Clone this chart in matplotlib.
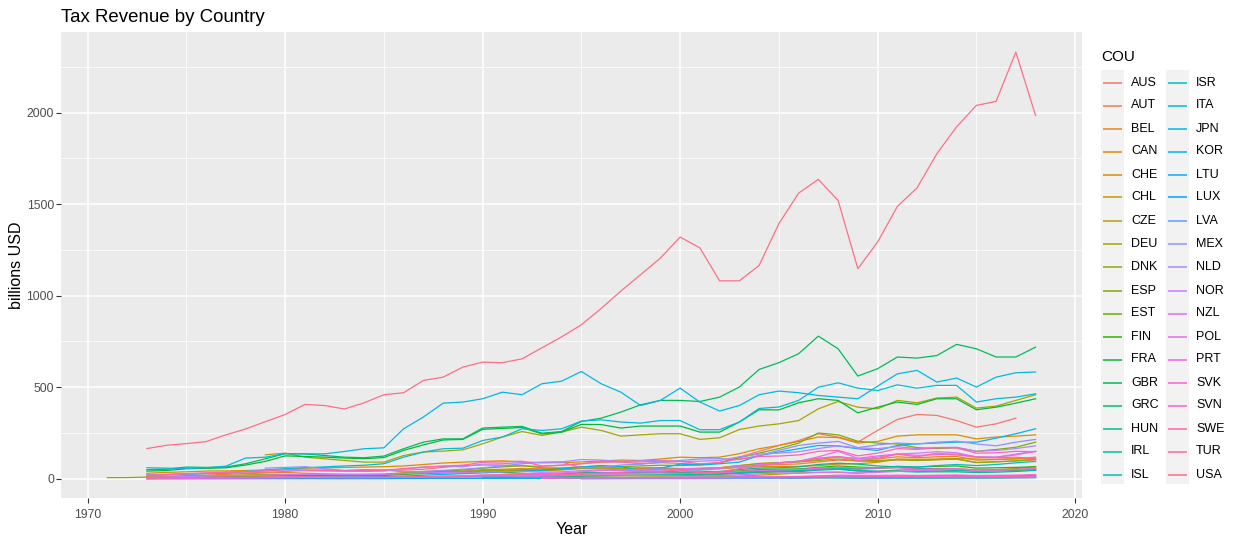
import numpy as np
import matplotlib
matplotlib.use("Agg")
import matplotlib.pyplot as plt
from matplotlib.lines import Line2D
from matplotlib.patches import Rectangle

plt.rcParams['font.family'] = ['Liberation Sans', 'DejaVu Sans']

# Tax revenue, billions USD, one list per country starting at START[country]
AUS = [20, 24, 27, 30, 30, 32, 35, 40, 46, 48,
       45, 50, 48, 47, 52, 62, 72, 75, 74, 70,
       68, 74, 82, 90, 92, 82, 88, 84, 78, 88,
       118, 150, 182, 209, 246, 228, 200, 264, 324, 351,
       346, 318, 282, 300, 331]
AUT = [8, 10, 12, 13, 16, 18, 22, 23, 21, 21,
       21, 21, 22, 28, 34, 36, 36, 44, 46, 51,
       51, 55, 63, 61, 55, 56, 56, 53, 51, 55,
       66, 75, 77, 81, 92, 102, 97, 94, 104, 100,
       105, 107, 90, 94, 97, 104]
BEL = [12, 14, 17, 20, 24, 28, 32, 35, 30, 27,
       25, 25, 26, 33, 40, 42, 42, 50, 52, 56,
       54, 58, 66, 64, 58, 59, 60, 56, 55, 60,
       72, 84, 88, 92, 106, 118, 110, 108, 120, 115,
       120, 122, 102, 105, 110, 118]
CAN = [30, 35, 38, 42, 43, 45, 48, 52, 58, 60,
       62, 64, 66, 70, 78, 86, 91, 95, 98, 92,
       88, 88, 92, 97, 102, 100, 108, 118, 115, 118,
       137, 164, 182, 204, 228, 225, 195, 204, 233, 240,
       240, 240, 218, 228, 233, 240]
CHE = [9, 11, 13, 14, 15, 20, 22, 21, 20, 21,
       21, 20, 21, 28, 34, 35, 33, 42, 43, 45,
       44, 48, 56, 55, 48, 49, 50, 48, 50, 55,
       62, 66, 67, 68, 72, 80, 82, 90, 108, 106,
       108, 110, 108, 106, 108, 110]
CHL = [6, 7, 9, 10, 11, 14, 15, 16, 15, 14,
       15, 14, 14, 15, 20, 25, 32, 35, 35, 30,
       40, 48, 50, 50, 46, 42, 42, 46, 50]
CZE = [12, 14, 18, 20, 19, 20, 19, 18, 20, 25,
       30, 34, 38, 42, 52, 62, 56, 56, 62, 56,
       56, 55, 48, 50, 56, 66]
DEU = [131, 140, 118, 109, 100, 91, 91, 127, 146, 151,
       158, 191, 228, 258, 237, 255, 282, 264, 233, 240,
       246, 246, 215, 224, 269, 288, 300, 318, 382, 422,
       391, 382, 428, 415, 441, 446, 386, 397, 428, 459]
DNK = [6, 6.5,
       9, 11, 13, 15, 17, 19, 22, 24, 21, 20,
       20, 21, 23, 30, 38, 40, 38, 46, 47, 50,
       48, 52, 60, 60, 56, 58, 58, 54, 56, 60,
       72, 82, 88, 92, 100, 108, 98, 100, 104, 100,
       104, 108, 88, 92, 98, 106]
ESP = [6, 8, 10, 11, 11, 13, 17, 20, 20, 20,
       18, 19, 22, 28, 35, 42, 48, 58, 65, 72,
       60, 58, 65, 70, 66, 70, 74, 72, 76, 88,
       115, 140, 165, 195, 250, 240, 205, 195, 190, 170,
       165, 170, 150, 160, 172, 200]
EST = [1, 1.2, 1.3, 1.5, 1.4, 1.4, 1.5, 1.8, 2.4, 3,
       3.5, 4.4, 5.8, 6.2, 5.2, 4.8, 5.2, 5.3, 6, 6.4,
       5.5, 5.8, 6.5, 7.5]
FIN = [6, 7, 9, 10, 10, 11, 13, 16, 17, 17,
       16, 17, 18, 24, 28, 32, 34, 40, 36, 30,
       22, 26, 34, 34, 32, 34, 34, 31, 32, 35,
       43, 50, 52, 54, 62, 70, 64, 60, 68, 64,
       68, 70, 58, 60, 62, 66]
FRA = [42, 45, 55, 57, 60, 75, 95, 125, 122, 118,
       113, 110, 116, 155, 185, 212, 215, 270, 275, 280,
       245, 255, 297, 296, 277, 288, 288, 288, 255, 255,
       310, 377, 376, 415, 437, 428, 360, 391, 419, 406,
       437, 437, 377, 391, 413, 437]
GBR = [49, 52, 64, 62, 64, 82, 109, 137, 136, 127,
       118, 115, 124, 164, 200, 218, 218, 277, 282, 286,
       249, 258, 313, 331, 364, 404, 428, 428, 422, 446,
       501, 597, 634, 683, 779, 710, 561, 601, 665, 659,
       673, 734, 710, 665, 665, 719]
GRC = [3, 3.5, 4, 4.5, 5.3, 6.3, 8, 9, 9, 10,
       9.5, 9.5, 10, 10, 11, 13, 14, 18, 20, 23,
       23, 25, 29, 31, 32, 33, 35, 34, 35, 40,
       51, 58, 60, 65, 78, 85, 80, 70, 65, 57,
       52, 54, 45, 46, 48, 52]
HUN = [12, 14, 15, 16, 16, 18, 18, 18, 19, 18,
       20, 25, 30, 36, 38, 39, 47, 52, 42, 40,
       41, 37, 38, 38, 34, 36, 40, 46]
IRL = [2, 2.3, 2.7, 3, 3.5, 4.3, 5.4, 6.4, 6.4, 6.6,
       6.4, 6.5, 7, 8.6, 10, 10.5, 10.8, 12.4, 12.5, 14,
       12.5, 13.5, 15.5, 17, 18, 19.5, 21.5, 22, 24, 27,
       34, 40, 45, 50, 59, 56, 45, 41, 43, 40,
       42, 45, 43, 47, 50, 57]
ISL = [0.4, 0.5, 0.5, 0.6, 0.7, 0.9, 1, 1.2, 1.4, 1.3,
       1, 1.1, 1.2, 1.6, 2.1, 2.2, 2.1, 2.3, 2.5, 2.5,
       2.1, 2.1, 2.3, 2.4, 2.5, 2.8, 3, 3, 2.7, 3.1,
       3.8, 4.6, 5.6, 5.6, 6.8, 4.8, 3.3, 3.2, 3.5, 3.4,
       3.7, 4.2, 4.6, 5.5, 6.4, 6.6]
ISR = [30, 33, 35, 37, 38, 42, 42, 38, 38, 40,
       42, 45, 50, 58, 52, 58, 65, 64, 72, 78,
       72, 78, 87, 95]
ITA = [20, 22, 25, 28, 33, 40, 48, 55, 60, 65,
       70, 74, 82, 118, 146, 164, 167, 209, 228, 273,
       264, 273, 315, 322, 310, 304, 318, 318, 268, 268,
       310, 384, 392, 428, 500, 524, 495, 482, 513, 495,
       510, 510, 419, 437, 446, 464]
JPN = [60, 58, 56, 60, 69, 113, 118, 137, 136, 136,
       149, 164, 169, 273, 337, 413, 419, 437, 473, 459,
       519, 533, 586, 519, 473, 400, 428, 495, 419, 370,
       400, 459, 479, 470, 455, 446, 437, 506, 573, 592,
       528, 550, 501, 555, 579, 583]
KOR = [1, 2, 2, 3, 4, 5, 6, 7, 8, 9,
       10, 11, 12, 15, 19, 24, 28, 32, 38, 42,
       46, 54, 64, 72, 66, 45, 58, 80, 75, 82,
       91, 127, 146, 164, 182, 179, 164, 155, 182, 191,
       195, 200, 200, 222, 246, 273]
LTU = [1.5, 1.7, 2.2, 2.7, 2.8, 2.8, 2.8, 3, 3.8, 4.5,
       5, 6, 8, 9.4, 7, 6.4, 7.1, 7.1, 7.7, 8.1,
       6.9, 7.3, 8, 9.2]
LUX = [0.7, 0.8, 0.9, 1, 1.1, 1.3, 1.5, 1.7, 1.5, 1.4,
       1.4, 1.4, 1.5, 2, 2.4, 2.6, 2.8, 3.4, 3.6, 4,
       4.2, 4.7, 5.5, 5.5, 5, 5.3, 5.8, 6.2, 6.4, 7.2,
       8.8, 10, 10.6, 11, 13, 14.5, 13.5, 14.5, 16, 15.5,
       16.5, 17.5, 15, 15.5, 16.5, 18.5]
LVA = [0.9, 1, 1.1, 1.3, 1.4, 1.4, 1.4, 1.5, 1.8, 2.2,
       2.7, 3.5, 5, 6, 4.5, 4, 4.5, 4.6, 5, 5.4,
       4.7, 4.9, 5.4, 6.4]
MEX = [58, 62, 66, 55, 45, 47, 48, 38, 40, 46,
       52, 60, 70, 82, 91, 92, 60, 62, 75, 80,
       90, 100, 108, 110, 105, 127, 155, 182, 195, 204,
       170, 185, 195, 190, 200, 205, 190, 180, 200, 215]
NLD = [18, 22, 26, 30, 35, 40, 45, 48, 44, 43,
       42, 40, 42, 55, 65, 68, 66, 80, 82, 88,
       88, 92, 105, 102, 95, 98, 100, 95, 96, 100,
       120, 135, 140, 148, 165, 180, 168, 165, 175, 165,
       170, 172, 150, 155, 165, 180]
NOR = [8, 10, 12, 14, 16, 17, 19, 23, 24, 24,
       23, 23, 24, 28, 32, 34, 34, 38, 38, 40,
       36, 38, 45, 48, 46, 44, 47, 48, 50, 58,
       68, 76, 88, 96, 112, 122, 108, 118, 135, 140,
       148, 142, 120, 118, 135, 150]
NZL = [3.5, 4, 4.5, 4.7, 5, 5.8, 6.5, 7.3, 7.8, 7.8,
       7.5, 7.4, 7.6, 9.5, 12.5, 14.5, 14.5, 15.5, 15, 14,
       15, 17, 19.5, 21.5, 21, 17.5, 17.5, 15.5, 15, 17,
       22, 27, 31, 30, 35, 37, 32, 35, 40, 45,
       48, 53, 45, 46, 51, 55]
POL = [24, 28, 30, 32, 38, 45, 48, 52, 52, 54,
       58, 60, 62, 70, 85, 95, 120, 150, 112, 125,
       135, 128, 132, 136, 118, 118, 130, 150]
PRT = [2.6, 3, 3.4, 3.7, 4, 4.3, 5, 6.2, 6.4, 6.2,
       5.8, 5.8, 6.4, 8.4, 10.5, 11.5, 13, 17, 20, 25,
       23, 24, 28, 30, 29, 31, 32, 30, 30, 33,
       40, 46, 48, 51, 57, 63, 60, 58, 60, 52,
       54, 55, 47, 48, 51, 56]
SVK = [3.5, 4.2, 5.5, 6, 6.2, 6.4, 6, 5.6, 5.6, 6.3,
       8.2, 10, 11, 12.5, 15.5, 19.5, 19, 18, 19.5, 18,
       19.5, 20.5, 18, 19, 20, 22.5]
SVN = [3.5, 4.2, 5.5, 5.8, 5.8, 6.2, 6.5, 6.3, 6.3, 7,
       8.7, 10, 10.5, 11.5, 13, 15, 13.5, 13, 13.6, 12.5,
       13, 13.5, 11.4, 11.8, 12.5, 14.5]
SWE = [20, 23, 28, 32, 36, 38, 42, 50, 48, 45,
       42, 44, 46, 55, 62, 70, 74, 90, 92, 96,
       70, 74, 82, 95, 92, 92, 96, 95, 82, 88,
       108, 122, 124, 130, 150, 155, 125, 140, 165, 160,
       170, 168, 140, 142, 150, 148]
TUR = [4, 5, 6, 7, 8, 9, 11, 12, 11, 10,
       9, 8.5, 9, 10, 11, 12, 15, 21, 23, 25,
       29, 21, 24, 30, 35, 40, 40, 48, 32, 37,
       55, 70, 86, 96, 112, 120, 100, 110, 135, 120,
       140, 130, 118, 115, 118, 110]
USA = [165, 183, 192, 203, 240, 272, 312, 351, 406, 400,
       381, 415, 459, 470, 537, 555, 610, 637, 634, 655,
       715, 775, 841, 930, 1025, 1115, 1205, 1320, 1261, 1081,
       1081, 1165, 1393, 1560, 1635, 1520, 1147, 1293, 1487, 1589,
       1775, 1922, 2039, 2061, 2330, 1984]

START = {'AUS': 1973, 'AUT': 1973, 'BEL': 1973, 'CAN': 1973, 'CHE': 1973,
         'CHL': 1990, 'CZE': 1993, 'DEU': 1979, 'DNK': 1971, 'ESP': 1973,
         'EST': 1995, 'FIN': 1973, 'FRA': 1973, 'GBR': 1973, 'GRC': 1973,
         'HUN': 1991, 'IRL': 1973, 'ISL': 1973, 'ISR': 1995, 'ITA': 1973,
         'JPN': 1973, 'KOR': 1973, 'LTU': 1995, 'LUX': 1973, 'LVA': 1995,
         'MEX': 1979, 'NLD': 1973, 'NOR': 1973, 'NZL': 1973, 'POL': 1991,
         'PRT': 1973, 'SVK': 1993, 'SVN': 1993, 'SWE': 1973, 'TUR': 1973,
         'USA': 1973}

series = {'AUS': AUS, 'AUT': AUT, 'BEL': BEL, 'CAN': CAN, 'CHE': CHE,
          'CHL': CHL, 'CZE': CZE, 'DEU': DEU, 'DNK': DNK, 'ESP': ESP,
          'EST': EST, 'FIN': FIN, 'FRA': FRA, 'GBR': GBR, 'GRC': GRC,
          'HUN': HUN, 'IRL': IRL, 'ISL': ISL, 'ISR': ISR, 'ITA': ITA,
          'JPN': JPN, 'KOR': KOR, 'LTU': LTU, 'LUX': LUX, 'LVA': LVA,
          'MEX': MEX, 'NLD': NLD, 'NOR': NOR, 'NZL': NZL, 'POL': POL,
          'PRT': PRT, 'SVK': SVK, 'SVN': SVN, 'SWE': SWE, 'TUR': TUR,
          'USA': USA}
countries = list(series.keys())


def hue_colour(h, c=100.0, l=65.0):
    """ggplot-style hcl() colour -> hex"""
    h = np.deg2rad(h)
    u_, v_ = c * np.cos(h), c * np.sin(h)
    xn, yn, zn = 95.047, 100.0, 108.883
    y = yn * ((l + 16) / 116) ** 3 if l > 8 else yn * l / 903.3
    un = 4 * xn / (xn + 15 * yn + 3 * zn)
    vn = 9 * yn / (xn + 15 * yn + 3 * zn)
    u = u_ / (13 * l) + un
    v = v_ / (13 * l) + vn
    x = 9 * y * u / (4 * v)
    z = -x / 3 - 5 * y + 3 * y / v
    xyz = np.array([x, y, z]) / 100
    m = np.array([[3.2404542, -1.5371385, -0.4985314],
                  [-0.9692660, 1.8760108, 0.0415560],
                  [0.0556434, -0.2040259, 1.0572252]])
    rgb = m @ xyz
    rgb = np.where(rgb <= 0.0031308, 12.92 * rgb,
                   1.055 * np.clip(rgb, 0, None) ** (1 / 2.4) - 0.055)
    rgb = np.clip(rgb, 0, 1)
    return '#%02X%02X%02X' % tuple(int(round(ch * 255)) for ch in rgb)


n = len(countries)
colours = {cou: hue_colour(15 + 360 * i / n) for i, cou in enumerate(countries)}

W, H = 1238, 545
fig = plt.figure(figsize=(W / 100, H / 100), dpi=100)
ax = fig.add_axes([61 / W, 1 - 498 / H, (1082 - 61) / W, (498 - 32) / H])
ax.set_facecolor('#EBEBEB')
for s in ax.spines.values():
    s.set_visible(False)

for cou in countries:
    vals = series[cou]
    yrs = np.arange(START[cou], START[cou] + len(vals))
    ax.plot(yrs, vals, color=colours[cou], lw=0.9)

ax.set_xlim(1968.65, 2020.35)
ax.set_ylim(-105, 2440)
ax.set_xticks([1970, 1980, 1990, 2000, 2010, 2020])
ax.set_yticks([0, 500, 1000, 1500, 2000])
ax.set_xticks([1975, 1985, 1995, 2005, 2015], minor=True)
ax.set_yticks([250, 750, 1250, 1750, 2250], minor=True)
ax.grid(which='major', color='white', lw=1.1)
ax.grid(which='minor', color='white', lw=0.55)
ax.set_axisbelow(True)
ax.tick_params(which='major', length=3.3, width=0.8, color='#333333',
               labelsize=8.8, labelcolor='#4D4D4D')
ax.tick_params(axis='x', which='major', pad=4.5)
ax.tick_params(axis='y', which='major', pad=1.8)
ax.tick_params(which='minor', length=0)

ax.set_xlabel('Year', fontsize=11.5)
ax.xaxis.set_label_coords(0.5, -(529 - 498) / 466)
ax.xaxis.label.set_va('center')
ax.set_ylabel('billions USD', fontsize=11.5)
ax.yaxis.set_label_coords((16 - 61) / 1021, 0.5)
ax.yaxis.label.set_va('center')

fig.text(61 / W, 1 - 18 / H, 'Tax Revenue by Country', fontsize=13.4,
         ha='left', va='center')

# legend (two columns, ggplot style keys)
fig.text(1101 / W, 1 - 57 / H, 'COU', fontsize=11, ha='left', va='center')
for kx in (1101, 1166):
    fig.add_artist(Rectangle((kx / W, 1 - 484 / H), 23 / W, (484 - 70) / H,
                             transform=fig.transFigure, color='#F2F2F2', lw=0))
for i, cou in enumerate(countries):
    col, row = divmod(i, 18)
    kx = 1101 + 65 * col
    ypx = round(81.7 + 23.1 * row) + 0.5
    y = 1 - ypx / H
    fig.add_artist(Line2D([(kx + 2) / W, (kx + 21) / W], [y, y],
                          transform=fig.transFigure, color=colours[cou],
                          lw=1.1, solid_capstyle='butt'))
    fig.text((kx + 30) / W, y, cou, fontsize=9, ha='left', va='center')

fig.savefig('out.png', dpi=100)
